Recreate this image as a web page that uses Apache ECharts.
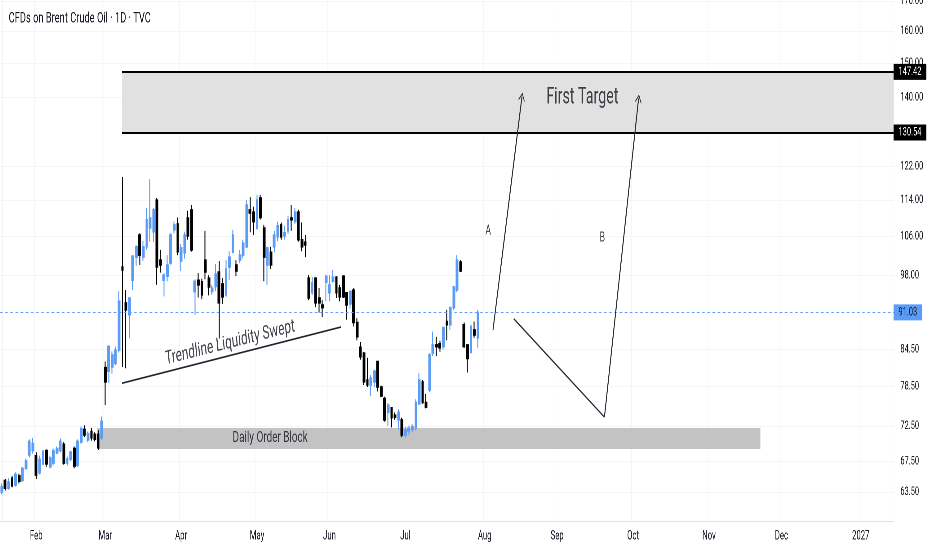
<!DOCTYPE html>
<html><head><meta charset="utf-8">
<script src="https://cdn.jsdelivr.net/npm/echarts@6/dist/echarts.min.js"></script>
<style>
html,body{margin:0;padding:0;width:932px;height:550px;overflow:hidden;background:#fff;}
#main{width:1503px;height:550px;transform:scaleX(0.62009);transform-origin:0 0;}
</style></head><body><div id="main"></div>
<script>
const chartTitle = 'CFDs on Brent Crude Oil · 1D · TVC';
const firstDay = [2026, 0, 19];
const categoryCount = 259;
const monthNames = ['Jan','Feb','Mar','Apr','May','Jun','Jul','Aug','Sep','Oct','Nov','Dec'];

const open  = [63.5,65.0,64.0,65.3,64.4,65.6,65.0,66.6,68.4,69.0,68.3,66.0,67.2,69.0,66.8,67.3,68.7,69.0,69.9,67.3,67.8,69.3,67.0,70.2,72.0,70.5,71.7,71.3,71.3,70.8,
  81.5,80.9,81.6,82.2,84.4,99.7,92.8,90.6,97.1,101.7,106.3,101.7,103.8,107.8,107.0,114.0,101.1,97.1,97.9,100.5,107.4,108.7,100.9,102.6,110.0,111.8,94.9,97.1,96.8,101.1,97.5,94.9,
  95.9,98.7,96.4,94.3,99.7,102.7,100.1,101.1,102.1,103.8,111.8,111.3,107.8,114.5,107.8,100.1,102.7,103.8,105.9,108.5,106.1,107.2,110.0,109.2,111.3,105.3,104.8,
  97.5,94.7,97.5,93.7,92.4,96.7,94.7,96.9,97.7,95.6,97.9,94.7,92.6,95.2,89.2,84.9,83.9,79.5,78.7,79.2,82.5,78.4,76.6,74.5,75.2,74.1,73.4,73.4,71.2,71.8,72.0,
  72.2,75.8,79.2,76.0,77.9,83.9,85.3,85.5,85.0,89.4,88.8,91.9,95.2,100.7,88.8,85.3,84.0,87.9,86.5];
const close = [64.2,64.0,64.8,64.3,65.8,64.9,66.6,67.6,70.3,70.0,65.7,67.8,68.9,67.2,68.0,69.0,69.3,70.3,67.3,67.9,68.8,66.9,70.3,72.1,71.2,71.4,70.8,70.6,69.4,73.2,
  79.2,85.0,83.6,84.4,93.1,99.1,91.5,93.7,101.9,103.8,102.1,103.8,109.6,110.0,111.8,99.7,100.1,98.1,100.1,106.3,108.5,102.8,103.6,106.3,106.1,103.2,96.9,96.2,94.3,98.7,95.8,95.6,
  98.3,92.8,93.9,99.3,101.7,106.3,98.9,102.1,104.6,112.9,111.1,109.2,114.0,110.1,101.7,103.6,100.1,106.3,108.3,105.9,106.8,109.6,109.6,111.3,105.3,103.8,104.2,
  93.7,96.6,92.8,92.8,91.9,97.9,96.2,97.7,94.7,93.9,93.9,92.4,94.9,89.2,86.7,83.3,79.2,78.7,79.8,80.9,78.4,77.0,73.4,75.6,73.7,73.8,74.5,71.2,71.9,72.2,72.4,
  76.0,79.5,76.0,75.3,83.6,85.3,85.0,84.8,88.3,88.8,91.9,95.8,101.1,98.9,85.0,83.0,88.5,87.0,91.03];
const low   = [63.2,63.7,63.8,64.1,64.2,64.6,64.8,66.4,68.1,68.6,65.2,65.8,67.0,66.8,66.6,67.0,68.5,68.8,67.1,67.0,67.6,66.6,66.8,70.0,70.9,70.2,70.4,70.3,69.1,70.5,
  75.6,79.0,80.5,81.9,84.0,81.6,81.4,86.4,95.2,99.9,100.1,100.9,103.2,104.9,104.9,96.2,98.6,94.0,96.9,100.1,106.6,102.1,98.9,101.4,105.3,102.8,90.6,93.8,93.5,97.3,94.2,94.3,
  95.0,86.4,92.6,93.9,97.1,102.5,97.9,100.5,101.5,103.6,106.9,106.3,107.4,109.6,96.9,96.2,99.3,102.7,105.0,105.3,105.3,106.5,107.2,108.7,104.9,102.9,101.7,
  93.3,94.3,92.0,91.0,90.2,93.1,93.1,96.6,93.7,93.1,93.7,89.7,91.7,88.5,86.1,82.8,78.7,78.4,77.0,78.4,77.7,76.8,73.1,72.5,72.3,73.4,72.0,70.9,70.8,71.2,71.6,
  71.9,75.6,75.8,75.1,77.6,83.4,83.4,84.1,84.5,86.1,87.9,91.5,94.8,98.7,84.8,80.7,83.9,86.5,84.8];
const high  = [64.6,65.2,65.3,65.6,66.1,65.9,66.8,67.9,70.6,70.8,68.8,68.3,69.1,69.2,68.3,69.3,69.6,70.7,70.2,68.2,69.0,69.6,70.6,72.4,72.6,71.7,72.2,71.6,71.9,73.9,
  82.5,85.3,84.2,85.0,95.0,119.4,95.2,93.9,102.1,104.2,106.7,105.1,112.2,118.9,112.2,114.5,103.2,98.5,102.1,106.8,109.2,110.1,104.4,107.0,111.6,112.9,97.3,98.5,97.4,107.2,98.1,96.2,
  100.3,100.9,97.5,101.1,102.9,107.4,101.1,103.2,105.3,114.0,114.7,112.5,115.2,115.2,108.5,103.8,103.8,107.2,109.2,109.0,108.3,110.5,112.9,112.2,111.8,109.0,106.3,
  98.1,97.7,97.7,95.6,93.3,98.1,98.1,99.1,97.9,96.2,98.1,94.7,95.2,95.6,90.0,85.8,84.1,83.1,80.3,81.2,82.5,78.6,76.9,75.9,75.3,74.5,75.0,73.7,72.4,72.6,72.8,
  76.5,80.6,79.5,77.3,83.9,87.6,86.7,86.0,88.5,91.5,92.1,96.0,102.1,101.1,89.2,85.3,88.8,89.4,91.5];

const yTicks = [63.5, 67.5, 72.5, 78.5, 84.5, 98, 106, 114, 122, 140, 150, 160, 170];
const lastPrice = 91.03;
const targetLevels = [147.42, 130.54];
const fibTexts = ['1.272 (147.45)', '1 (130.92)'];
const targetStartBar = 34.88;
const orderBlockBars = [27.63, 219.9];
const orderBlockPrices = [72.2, 69.24];
const trendBars = [34.88, 98.31];
const trendPrices = [79.0, 88.4];
const pathABars = [142.4, 150.8];
const pathAPrices = [87.9, 140.3];
const pathBBars = [148.4, 174.7, 184.6];
const pathBPrices = [89.9, 73.8, 139.8];
const noteTexts = ['First Target', 'A', 'B', 'Trendline Liquidity Swept', 'Daily Order Block'];
const noteBars = [168.3, 141.0, 174.1, 66.2, 77.8];
const notePrices = [140.0, 107.2, 105.7, 85.6, 70.8];

// trading-day categories (weekdays)
const categories = [];
(function(){
  const d = new Date(Date.UTC(firstDay[0], firstDay[1], firstDay[2]));
  while (categories.length < categoryCount) {
    const wd = d.getUTCDay();
    if (wd !== 0 && wd !== 6) categories.push(d.toISOString().slice(0,10));
    d.setUTCDate(d.getUTCDate() + 1);
  }
})();
const isMonthStart = (i) => i > 0 && categories[i].slice(5,7) !== categories[i-1].slice(5,7);
const lastBar = categoryCount - 0.5;

const FONT = 'Roboto, "Liberation Sans", sans-serif';
const TXT = '#131722';
const UP = '#5b9cf6', DOWN = '#000000';
const chevron = 'path://M0,12 L6,0 L12,12 L10.4,12 L6,3.2 L1.6,12 Z';
const projStyle = {color:'#2a2e39', width:1.6, type:'solid'};
const noLabel = {show:false};

const candles = open.map((o,i) => [o, close[i], low[i], high[i]]);

const noteStyles = [
  {fontSize:23},
  {fontSize:14},
  {fontSize:14},
  {fontSize:19, rotate:9},
  {fontSize:16}
];

const boxLabel = (txt, bg, fg) => ({show:true, position:'end', distance:0, formatter: txt, backgroundColor:bg,
  color:fg, fontSize:12, fontFamily:FONT, padding:[2,8,1,8], lineHeight:13});

const chart = echarts.init(document.getElementById('main'), null, {renderer:'canvas', devicePixelRatio:2});
chart.setOption({
  animation: false,
  backgroundColor: '#ffffff',
  title: {text: chartTitle, left: 9, top: 6,
    textStyle: {fontSize: 15, fontWeight: 'normal', color: TXT, fontFamily: FONT}},
  grid: {left: 0, right: 62, top: 0, bottom: 29, outerBoundsMode: 'none', containLabel: false},
  xAxis: [
    {type:'category', data: categories, boundaryGap: true,
     axisLine:{show:true, lineStyle:{color:'#e0e3eb'}}, axisTick:{show:false},
     axisLabel:{interval:(i)=>isMonthStart(i), color:TXT, fontSize:12.5, margin:9, fontFamily:FONT,
       formatter:(v)=>{const m=+v.slice(5,7); return m===1 ? v.slice(0,4) : monthNames[m-1];}},
     splitLine:{show:true, interval:(i)=>isMonthStart(i), lineStyle:{color:'#f4f5f8'}}},
    {type:'value', min:-0.5, max:lastBar, show:false, splitLine:{show:false}}
  ],
  yAxis: {type:'log', logBase:10, min:59.93, max:170.26, position:'right',
    axisLine:{show:true, lineStyle:{color:'#e0e3eb'}},
    axisTick:{show:false, customValues: yTicks},
    splitLine:{show:true, lineStyle:{color:'#f4f5f8'}},
    axisLabel:{customValues: yTicks, formatter:(v)=>Number(v).toFixed(2), color:TXT, fontSize:12, margin:11,
      fontFamily:FONT, align:'left'}},
  series: [
    {
      name:'Trendline', type:'line', xAxisIndex:1, yAxisIndex:0, z:1,
      data: trendBars.map((b,i)=>[b, trendPrices[i]]),
      symbol:'none', lineStyle:{color:'#1e222d', width:1.6}, silent:true,
      markArea: {silent:true, data: [
        [{coord:[orderBlockBars[0], orderBlockPrices[0]], itemStyle:{color:'#c3c3c3'}},
         {coord:[orderBlockBars[1], orderBlockPrices[1]]}],
        [{coord:[targetStartBar, targetLevels[0]], itemStyle:{color:'#e1e1e1'}},
         {coord:[lastBar, targetLevels[1]]}]
      ]},
      markLine: {silent:true, symbol:['none','none'], animation:false, data: [
        [{coord:[targetStartBar, targetLevels[0]], lineStyle:{color:'#000', width:2, type:'solid'},
          label:boxLabel(targetLevels[0].toFixed(2), '#000', '#fff')},
         {coord:[lastBar, targetLevels[0]]}],
        [{coord:[targetStartBar, targetLevels[1]], lineStyle:{color:'#000', width:2, type:'solid'},
          label:boxLabel(targetLevels[1].toFixed(2), '#000', '#fff')},
         {coord:[lastBar, targetLevels[1]]}],
        [{coord:[targetStartBar, targetLevels[0]], lineStyle:{opacity:0},
          label:{show:true, position:'insideEndTop', distance:[8,5], formatter: fibTexts[0], color:TXT, fontSize:13.5, fontFamily:FONT}},
         {coord:[lastBar, targetLevels[0]]}],
        [{coord:[targetStartBar, targetLevels[1]], lineStyle:{opacity:0},
          label:{show:true, position:'insideEndTop', distance:[8,5], formatter: fibTexts[1], color:TXT, fontSize:13.5, fontFamily:FONT}},
         {coord:[lastBar, targetLevels[1]]}],
        {yAxis: lastPrice, lineStyle:{color:UP, width:1, type:'dotted'},
          label:boxLabel(lastPrice.toFixed(2), UP, TXT)},
        [{coord:[pathABars[0], pathAPrices[0]], lineStyle:projStyle, label:noLabel},
         {coord:[pathABars[1], pathAPrices[1]], symbol:chevron, symbolSize:[11,8]}],
        [{coord:[pathBBars[0], pathBPrices[0]], lineStyle:projStyle, label:noLabel},
         {coord:[pathBBars[1], pathBPrices[1]]}],
        [{coord:[pathBBars[1], pathBPrices[1]], lineStyle:projStyle, label:noLabel},
         {coord:[pathBBars[2], pathBPrices[2]], symbol:chevron, symbolSize:[11,8]}]
      ]}
    },
    {
      name:'Brent', type:'candlestick', xAxisIndex:0, yAxisIndex:0, z:3,
      data: candles, barWidth:'60%',
      itemStyle:{color:UP, color0:DOWN, borderColor:UP, borderColor0:DOWN, borderWidth:1.5}
    },
    {
      name:'Notes', type:'scatter', xAxisIndex:1, yAxisIndex:0, z:6, silent:true,
      symbolSize:1, itemStyle:{color:'rgba(0,0,0,0)'},
      data: noteTexts.map((t,i)=>({value:[noteBars[i], notePrices[i]],
        label:Object.assign({show:true, position:'inside', formatter:t, color:TXT, fontFamily:FONT}, noteStyles[i])}))
    }
  ]
});
</script></body></html>
